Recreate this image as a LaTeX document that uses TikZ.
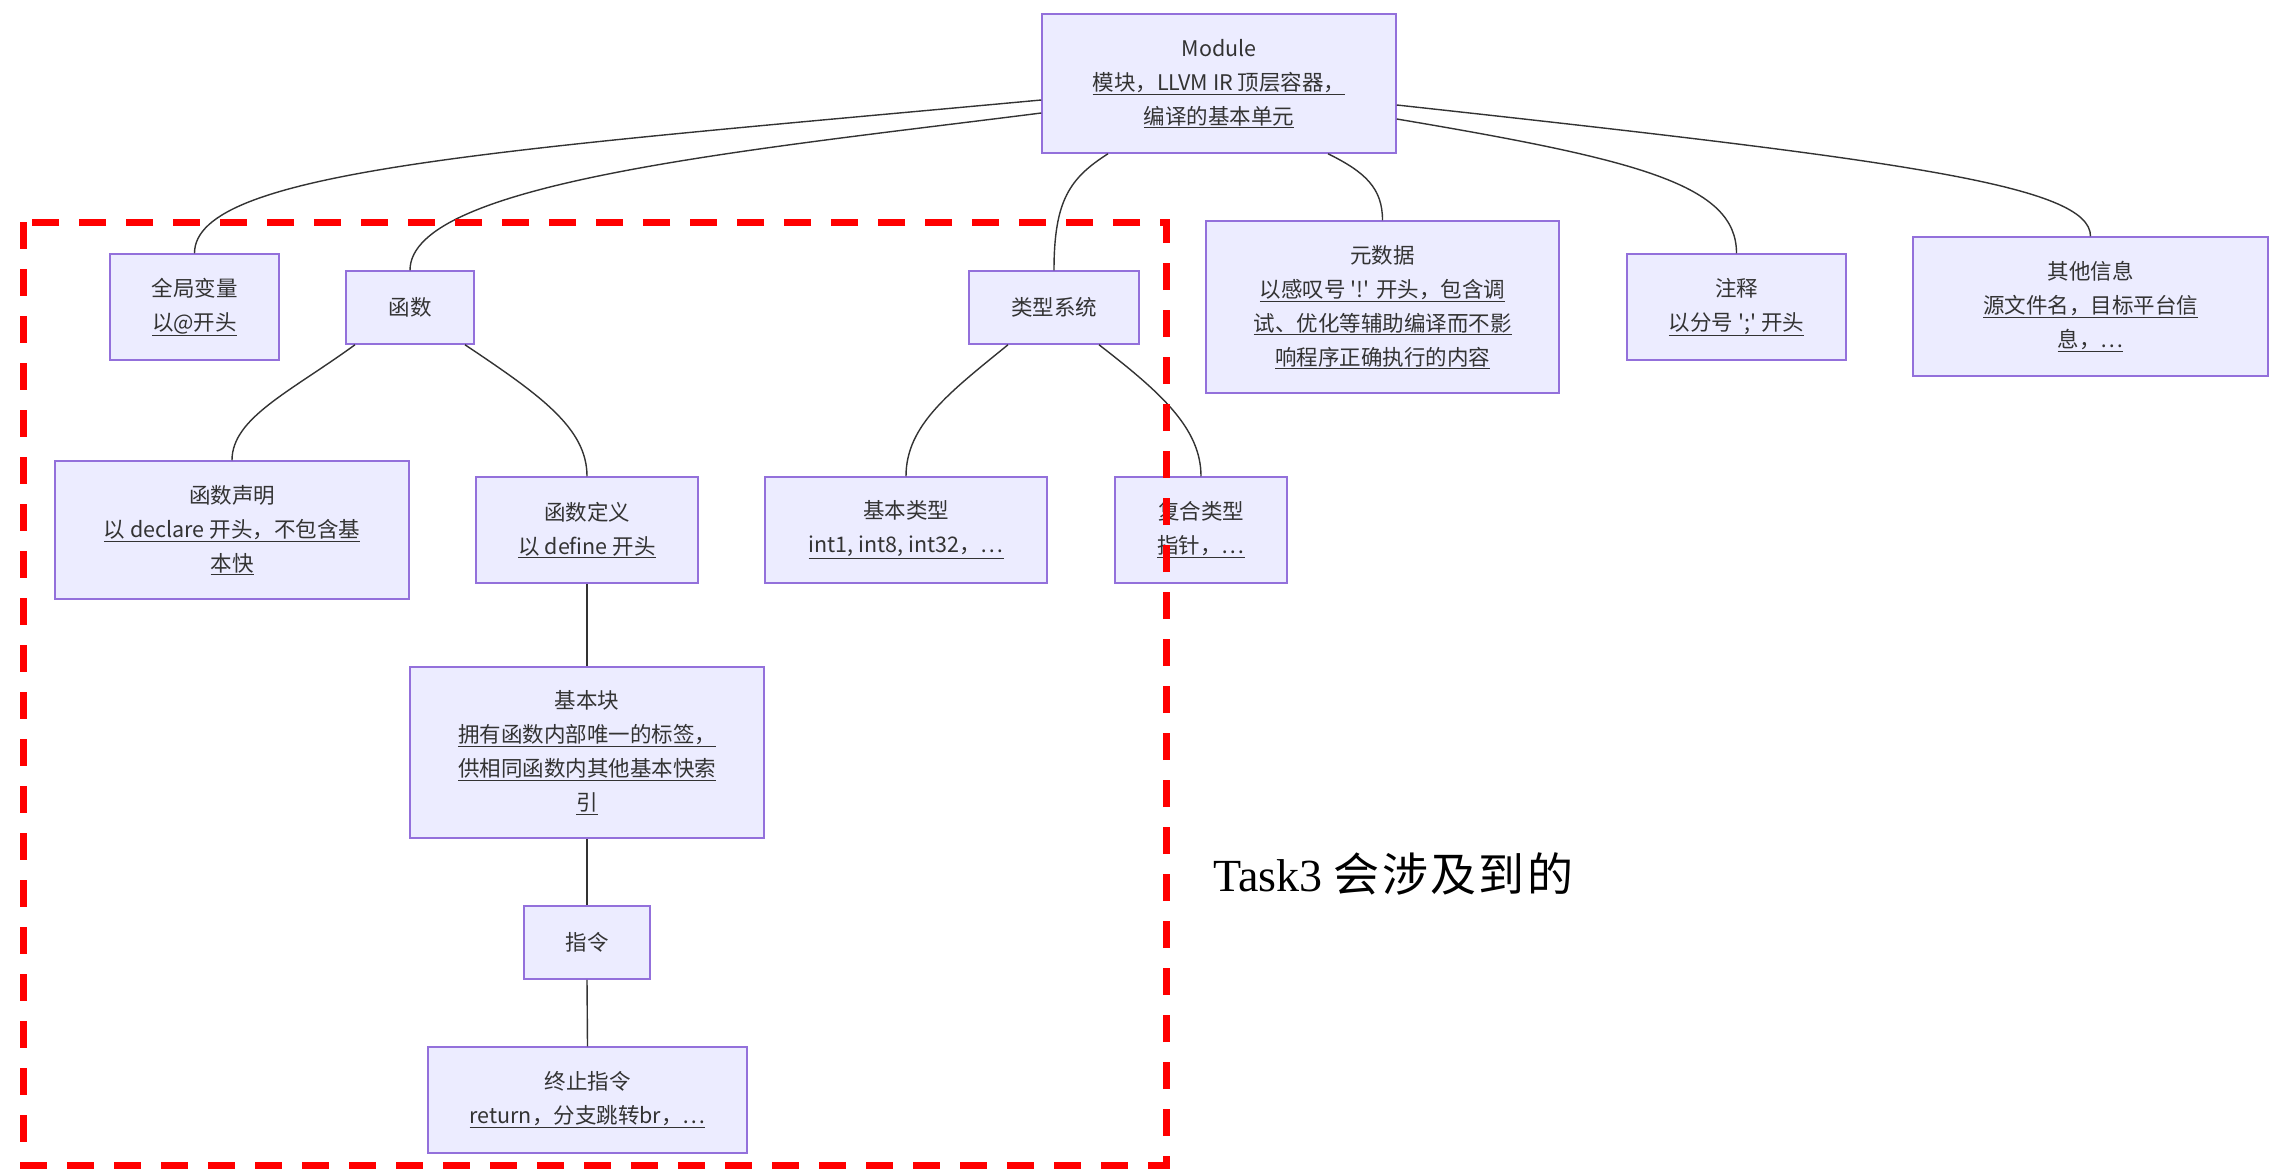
\documentclass[tikz,border=0pt]{standalone}
\usepackage{fontspec}
\setmainfont{Liberation Serif}
\newfontfamily\cjk{Noto Sans CJK SC}
\newfontfamily\cjkwide[LetterSpace=5]{Noto Sans CJK SC}
\usetikzlibrary{calc}
\definecolor{boxfill}{HTML}{ECECFF}
\definecolor{boxline}{HTML}{9370DB}
\definecolor{txt}{HTML}{333333}
\newcommand{\lnk}[1]{\underline{#1\vphantom{以}}}
\begin{document}
\begin{tikzpicture}[x=1pt,y=-1pt,
  box/.style={draw=boxline, fill=boxfill, line width=1.5pt, inner sep=0pt, align=center,
    text=txt, font=\cjk\fontsize{21.5}{34}\selectfont},
  link/.style={draw=txt, line width=1.4pt},
  scopebox/.style={draw=red, line width=7pt, dash pattern=on 27pt off 20pt}]
\fill[white] (0,0) rectangle (2272,1172);
\useasboundingbox (0,0) rectangle (2272,1172);

% nodes
\node[box, minimum width=354pt, minimum height=139pt] (mod) at (1219,83.5)
  {Module\\\lnk{模块，LLVM IR 顶层容器，}\\\lnk{编译的基本单元}};
\node[box, minimum width=169pt, minimum height=106pt] (gv) at (194.5,307)
  {全局变量\\\lnk{以@开头}};
\node[box, minimum width=128pt, minimum height=73pt] (fn) at (410,307.5) {函数};
\node[box, minimum width=170pt, minimum height=73pt] (ts) at (1054,307.5) {类型系统};
\node[box, minimum width=353pt, minimum height=172pt] (md) at (1382.5,307)
  {元数据\\\lnk{以感叹号 '!' 开头，包含调}\\\lnk{试、优化等辅助编译而不影}\\\lnk{响程序正确执行的内容}};
\node[box, minimum width=219pt, minimum height=106pt] (cm) at (1736.5,307)
  {注释\\\lnk{以分号 ';' 开头}};
\node[box, minimum width=355pt, minimum height=139pt] (oi) at (2090.5,306.5)
  {其他信息\\\lnk{源文件名，目标平台信}\\\lnk{息，…}};
\node[box, minimum width=354pt, minimum height=138pt] (fd) at (232,530)
  {函数声明\\\lnk{以 declare 开头，不包含基}\\\lnk{本快}};
\node[box, minimum width=222pt, minimum height=106pt] (fdef) at (587,530)
  {函数定义\\\lnk{以 define 开头}};
\node[box, minimum width=282pt, minimum height=106pt] (bt) at (906,530)
  {基本类型\\\lnk{int1, int8, int32，…}};
\node[box, minimum width=172pt, minimum height=106pt] (ct) at (1201,530)
  {复合类型\\\lnk{指针，…}};
\node[box, minimum width=354pt, minimum height=171pt] (bb) at (587,752.5)
  {基本块\\\lnk{拥有函数内部唯一的标签，}\\\lnk{供相同函数内其他基本快索}\\\lnk{引}};
\node[box, minimum width=126pt, minimum height=73pt] (ins) at (587,942.5) {指令};
\node[box, minimum width=319pt, minimum height=106pt] (term) at (587.5,1100)
  {终止指令\\\lnk{return，分支跳转br，…}};

% connectors
\draw[link] ($(mod.west)+(0,16.5)$) .. controls (500,150) and (194.5,170) .. (gv.north);
\draw[link] ($(mod.west)+(0,29.5)$) .. controls (750,150) and (410,182) .. (fn.north);
\draw[link] ($(mod.south)+(-111,0)$) .. controls (1070,178) and (1054,200) .. (ts.north);
\draw[link] ($(mod.south)+(109,0)$) .. controls (1365,172) and (1382.5,188) .. (md.north);
\draw[link] ($(mod.east)+(0,35.5)$) .. controls (1640,160) and (1736.5,185) .. (cm.north);
\draw[link] ($(mod.east)+(0,21.5)$) .. controls (1900,160) and (2090.5,185) .. (oi.north);
\draw[link] ($(fn.south)+(-55,0)$) .. controls (290,392) and (232,418) .. (fd.north);
\draw[link] ($(fn.south)+(55,0)$) .. controls (540,395) and (587,428) .. (fdef.north);
\draw[link] ($(ts.south)+(-46,0)$) .. controls (950,392) and (906,425) .. (bt.north);
\draw[link] ($(ts.south)+(45,0)$) .. controls (1160,392) and (1201,428) .. (ct.north);
\draw[link] (fdef.south) -- (bb.north);
\draw[link] (bb.south) -- (ins.north);
\draw[link] (ins.south) -- (term.north);

% highlight frame and note
\draw[scopebox] (23,222) rectangle (1166,1165);
\node[anchor=base west, inner sep=0pt, font=\fontsize{46}{50}\selectfont] (task) at (1213,891)
  {Task3 {\cjkwide 会涉及到的}};
\end{tikzpicture}
\end{document}
